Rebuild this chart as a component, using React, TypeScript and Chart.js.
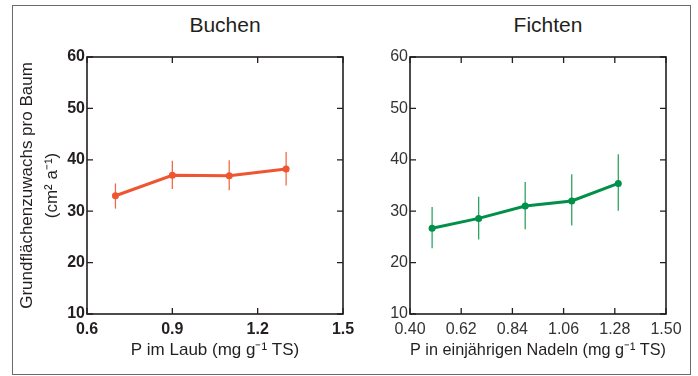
import React, { useEffect, useRef } from "react";
import { Chart, registerables } from "chart.js";
Chart.register(...registerables);

// ---- data ----
const buchenX = [0.7, 0.9, 1.1, 1.3];
const buchenY = [33.0, 37.0, 36.9, 38.2];
const buchenLow = [30.5, 34.3, 34.1, 35.0];
const buchenHigh = [35.4, 39.8, 39.9, 41.5];

const fichtenX = [0.495, 0.695, 0.895, 1.095, 1.295];
const fichtenY = [26.7, 28.6, 31.0, 32.0, 35.4];
const fichtenLow = [22.8, 24.5, 26.5, 27.2, 30.1];
const fichtenHigh = [30.8, 32.8, 35.7, 37.2, 41.1];

const yTicks = [10, 20, 30, 40, 50, 60];
const buchenXTicks = [0.6, 0.9, 1.2, 1.5];
const fichtenXTicks = [0.4, 0.62, 0.84, 1.06, 1.28, 1.5];

const FONT = "'Liberation Sans', Arial, Helvetica, sans-serif";
const INK = "#231f20";

const framePlugin = {
  id: "frameAndErrors",
  beforeDatasetsDraw(chart: any) {
    const opts = chart.options.plugins.errorBars;
    if (!opts) return;
    const { ctx } = chart;
    const xs = chart.scales.x;
    const ys = chart.scales.y;
    ctx.save();
    ctx.strokeStyle = opts.color;
    ctx.lineWidth = 1.3;
    opts.xs.forEach((xv: number, i: number) => {
      const px = xs.getPixelForValue(xv);
      ctx.beginPath();
      ctx.moveTo(px, ys.getPixelForValue(opts.low[i]));
      ctx.lineTo(px, ys.getPixelForValue(opts.high[i]));
      ctx.stroke();
    });
    ctx.restore();
  },
  afterDraw(chart: any) {
    const { ctx, chartArea: a } = chart;
    const xs = chart.scales.x;
    const ys = chart.scales.y;
    const L = 6;
    ctx.save();
    ctx.strokeStyle = INK;
    ctx.lineWidth = 1.3;
    xs.ticks.forEach((t: any) => {
      const px = xs.getPixelForValue(t.value);
      ctx.beginPath();
      ctx.moveTo(px, a.bottom);
      ctx.lineTo(px, a.bottom - L);
      ctx.moveTo(px, a.top);
      ctx.lineTo(px, a.top + L);
      ctx.stroke();
    });
    ys.ticks.forEach((t: any) => {
      const py = ys.getPixelForValue(t.value);
      ctx.beginPath();
      ctx.moveTo(a.left, py);
      ctx.lineTo(a.left + L, py);
      ctx.moveTo(a.right, py);
      ctx.lineTo(a.right - L, py);
      ctx.stroke();
    });
    ctx.lineWidth = 1.6;
    ctx.strokeRect(a.left, a.top, a.right - a.left, a.bottom - a.top);
    ctx.restore();
  },
};

function makeConfig(p: {
  xs: number[]; ys: number[]; low: number[]; high: number[];
  color: string; errColor: string; xMin: number; xMax: number; xTicks: number[];
  decimals: number; bold: boolean; tickColor: string; yWidth: number; padRight: number;
  xTitle: string; yTitle: string[] | null;
}) {
  const tickFont = { family: FONT, size: 16, weight: p.bold ? "bold" : "normal" } as any;
  return {
    type: "line",
    data: {
      datasets: [
        {
          data: p.xs.map((x, i) => ({ x, y: p.ys[i] })),
          borderColor: p.color,
          backgroundColor: p.color,
          borderWidth: 3,
          pointRadius: 3.5,
          pointBorderWidth: 0,
          pointBackgroundColor: p.color,
          tension: 0,
          fill: false,
        },
      ],
    },
    options: {
      responsive: false,
      animation: false,
      events: [],
      layout: { padding: { left: 0, top: 57, right: p.padRight, bottom: 0 } },
      plugins: {
        legend: { display: false },
        tooltip: { enabled: false },
        errorBars: { xs: p.xs, low: p.low, high: p.high, color: p.errColor },
      },
      scales: {
        x: {
          type: "linear",
          min: p.xMin,
          max: p.xMax,
          afterBuildTicks: (s: any) => { s.ticks = p.xTicks.map((v) => ({ value: v })); },
          afterFit: (s: any) => { s.height = 62; s.paddingLeft = 0; s.paddingRight = 0; },
          grid: { display: false, drawTicks: false },
          border: { display: false },
          ticks: {
            padding: 6,
            autoSkip: false,
            maxRotation: 0,
            font: tickFont,
            color: p.tickColor,
            callback: (v: any) => Number(v).toFixed(p.decimals),
          },
          title: {
            display: true,
            text: p.xTitle,
            color: INK,
            font: { family: FONT, size: 17 },
            padding: { top: 0, bottom: 15 },
          },
        },
        y: {
          type: "linear",
          min: 10,
          max: 60,
          afterBuildTicks: (s: any) => { s.ticks = yTicks.map((v) => ({ value: v })); },
          afterFit: (s: any) => { s.width = p.yWidth; s.paddingTop = 0; s.paddingBottom = 0; },
          grid: { display: false, drawTicks: false },
          border: { display: false },
          ticks: {
            padding: 2,
            font: tickFont,
            color: p.tickColor,
            callback: (v: any) => String(v),
          },
          title: p.yTitle
            ? {
                display: true,
                text: p.yTitle,
                color: INK,
                font: { family: FONT, size: 17, lineHeight: 1.47 },
                padding: { top: 15, bottom: 0 },
              }
            : { display: false },
        },
      },
    },
    plugins: [framePlugin],
  } as any;
}

function Panel({ left, width, config }: { left: number; width: number; config: any }) {
  const ref = useRef<HTMLCanvasElement | null>(null);
  useEffect(() => {
    if (!ref.current) return;
    const chart = new Chart(ref.current, config);
    return () => chart.destroy();
  }, []);
  return (
    <canvas
      ref={ref}
      width={width}
      height={376}
      style={{ position: "absolute", left, top: 0, width, height: 376 }}
    />
  );
}

export default function App() {
  const buchen = makeConfig({
    xs: buchenX, ys: buchenY, low: buchenLow, high: buchenHigh,
    color: "#ef5530", errColor: "#f26a45",
    xMin: 0.6, xMax: 1.5, xTicks: buchenXTicks, decimals: 1, bold: true, tickColor: INK,
    yWidth: 87, padRight: 17,
    xTitle: "P im Laub (mg g⁻¹ TS)",
    yTitle: ["Grundflächenzuwachs pro Baum", "(cm² a⁻¹)"],
  });
  const fichten = makeConfig({
    xs: fichtenX, ys: fichtenY, low: fichtenLow, high: fichtenHigh,
    color: "#00904a", errColor: "#2ea463",
    xMin: 0.4, xMax: 1.5, xTicks: fichtenXTicks, decimals: 2, bold: false, tickColor: "#333333",
    yWidth: 61, padRight: 32,
    xTitle: "P in einjährigen Nadeln (mg g⁻¹ TS)",
    yTitle: null,
  });
  const titleStyle: React.CSSProperties = {
    position: "absolute",
    top: 14,
    width: 160,
    textAlign: "center",
    fontFamily: FONT,
    fontSize: 21,
    lineHeight: "21px",
    color: INK,
  };
  return (
    <div style={{ position: "absolute", left: 0, top: 0, width: 698, height: 376, background: "#fff", overflow: "hidden" }}>
      <div
        style={{
          position: "absolute",
          left: 12,
          top: 5,
          width: 679,
          height: 370,
          border: "1.5px solid #6a6a6a",
          boxSizing: "border-box",
        }}
      />
      <div style={{ ...titleStyle, left: 225 - 80 }}>Buchen</div>
      <div style={{ ...titleStyle, left: 548 - 80 }}>Fichten</div>
      <Panel left={0} width={360} config={buchen} />
      <Panel left={349} width={349} config={fichten} />
    </div>
  );
}
